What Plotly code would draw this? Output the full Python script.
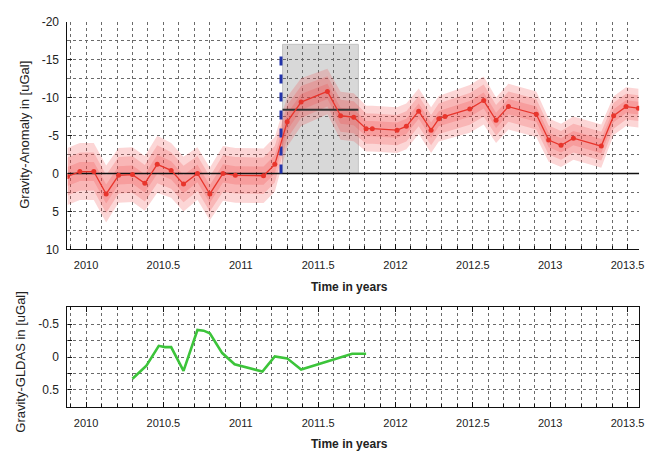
import plotly.graph_objects as go

# --- gravity anomaly time series (uGal, positive = down on the plot) ---
anom_t = [2009.88, 2009.96, 2010.05, 2010.13, 2010.21, 2010.30, 2010.38, 2010.46,
          2010.55, 2010.63, 2010.72, 2010.80, 2010.885, 2010.965, 2011.147, 2011.22,
          2011.30, 2011.39, 2011.56, 2011.645, 2011.73, 2011.81, 2011.85, 2012.01,
          2012.07, 2012.15, 2012.23, 2012.28, 2012.32, 2012.48, 2012.57, 2012.65,
          2012.73, 2012.91, 2012.99, 2013.07, 2013.15, 2013.33, 2013.41, 2013.49,
          2013.57]
anom_v = [0.4, -0.25, -0.25, 2.7, 0.25, 0.15, 1.3, -1.2,
          -0.4, 1.4, 0.0, 2.7, 0.0, 0.25, 0.3, -1.2,
          -6.8, -9.4, -10.8, -7.6, -7.4, -5.9, -5.9, -5.7,
          -6.2, -8.2, -5.7, -7.2, -7.5, -8.5, -9.6, -7.0,
          -8.8, -7.8, -4.4, -3.7, -4.65, -3.6, -7.6, -8.8,
          -8.6]
anom_sigma = [1.25, 1.25, 1.25, 1.25, 1.2, 1.2, 1.2, 1.25,
              1.2, 1.2, 1.15, 1.15, 1.2, 1.2, 1.2, 1.2,
              1.1, 1.05, 1.0, 1.05, 1.05, 1.0, 1.0, 1.0,
              1.0, 1.0, 1.0, 1.0, 1.0, 1.05, 1.05, 1.0,
              1.0, 1.0, 0.95, 0.95, 0.95, 0.95, 0.85, 0.85,
              0.85]

# event marker, averaging window and mean level
event_t = 2011.26
event_top = -16.3
window_t = [2011.27, 2011.76]
window_top = -17.0
window_mean = -8.4

# --- GLDAS hydrology correction (uGal) ---
gldas_t = [2010.30, 2010.39, 2010.47, 2010.51, 2010.55, 2010.63, 2010.72, 2010.76,
           2010.80, 2010.88, 2010.96, 2011.06, 2011.14, 2011.22, 2011.30, 2011.39,
           2011.55, 2011.63, 2011.72, 2011.81]
gldas_v = [0.33, 0.13, -0.17, -0.15, -0.15, 0.21, -0.41, -0.40,
           -0.36, -0.06, 0.11, 0.17, 0.22, -0.01, 0.02, 0.19,
           0.07, 0.01, -0.05, -0.05]

# axis ticks
x_tickvals = [2010, 2010.5, 2011, 2011.5, 2012, 2012.5, 2013, 2013.5]
x_ticktext = ["2010", "2010.5", "2011", "2011.5", "2012", "2012.5", "2013", "2013.5"]
y1_tickvals = [-20, -15, -10, -5, 0, 5, 10]
y1_ticktext = ["-20", "-15", "-10", "-5", "0", "5", "10"]
y2_tickvals = [-0.5, 0, 0.5]
y2_ticktext = ["-0.5", "0", "0.5"]

W, H = 668, 461
FONT = "Liberation Sans, Arial, sans-serif"
TXT = "#222222"
GRID = "#6a6a6a"

fig = go.Figure()

# confidence bands: 3, 2, 1 sigma
for k in (3, 2, 1):
    up = [v - k * s for v, s in zip(anom_v, anom_sigma)]
    lo = [v + k * s for v, s in zip(anom_v, anom_sigma)]
    fig.add_trace(go.Scatter(
        x=anom_t + anom_t[::-1], y=up + lo[::-1],
        fill="toself", fillcolor="rgba(240,70,70,0.22)",
        line=dict(width=0), mode="lines", hoverinfo="skip",
        xaxis="x", yaxis="y", showlegend=False))

# zero reference
fig.add_trace(go.Scatter(x=[2009.88, 2013.575], y=[0, 0], mode="lines",
                         line=dict(color="#111111", width=1.6),
                         xaxis="x", yaxis="y", showlegend=False))

# mean level in window
fig.add_trace(go.Scatter(x=window_t, y=[window_mean, window_mean], mode="lines",
                         line=dict(color="#333333", width=2),
                         xaxis="x", yaxis="y", showlegend=False))

# event marker
fig.add_trace(go.Scatter(x=[event_t, event_t], y=[0, event_top], mode="lines",
                         line=dict(color="#2233aa", width=3, dash="dash"),
                         xaxis="x", yaxis="y", showlegend=False))

# anomaly series
fig.add_trace(go.Scatter(x=anom_t, y=anom_v, mode="lines+markers",
                         line=dict(color="#e8352c", width=1.3),
                         marker=dict(color="#e8352c", size=5),
                         xaxis="x", yaxis="y", showlegend=False, cliponaxis=True))

# GLDAS series
fig.add_trace(go.Scatter(x=gldas_t, y=gldas_v, mode="lines",
                         line=dict(color="#3cc43a", width=2.6),
                         xaxis="x2", yaxis="y2", showlegend=False))

# averaging window box
fig.add_shape(type="rect", xref="x", yref="y",
              x0=window_t[0], x1=window_t[1], y0=0, y1=window_top,
              fillcolor="#d8d8d8", line=dict(color="#c4c4c4", width=1),
              layer="below")

xdom = [68 / W, 644 / W]
dom1 = [(H - 250) / H, (H - 15) / H]
dom2 = [(H - 413) / H, (H - 309) / H]

common_x = dict(
    range=[2009.88, 2013.575], tickvals=x_tickvals, ticktext=x_ticktext,
    ticks="inside", ticklen=5, tickcolor="#111111",
    showgrid=True, gridcolor=GRID, griddash="dot", gridwidth=1,
    minor=dict(dtick=0.1, tick0=2010, ticks="inside", ticklen=3,
               tickcolor="#111111", showgrid=True, gridcolor=GRID,
               griddash="dot", gridwidth=1),
    showline=True, linecolor="#111111", linewidth=1.2,
    zeroline=False, tickfont=dict(family=FONT, size=11, color=TXT),
    ticklabelstandoff=5, domain=xdom,
)

fig.update_layout(
    width=W, height=H, margin=dict(l=0, r=0, t=0, b=0),
    paper_bgcolor="white", plot_bgcolor="white",
    xaxis=dict(common_x, anchor="y", mirror=False),
    yaxis=dict(range=[10, -20], tickvals=y1_tickvals, ticktext=y1_ticktext,
               ticks="inside", ticklen=4, tickcolor="#111111",
               showgrid=True, gridcolor=GRID, griddash="dot", gridwidth=1,
               minor=dict(dtick=2.5, tick0=0, ticks="", showgrid=True,
                          gridcolor=GRID, griddash="dot", gridwidth=1),
               showline=True, linecolor="#111111", linewidth=1.2,
               zeroline=False, tickfont=dict(family=FONT, size=12, color=TXT),
               ticklabelstandoff=5, domain=dom1, anchor="x"),
    xaxis2=dict(common_x, anchor="y2", mirror="ticks"),
    yaxis2=dict(range=[0.765, -0.765], tickvals=y2_tickvals, ticktext=y2_ticktext,
                ticks="inside", ticklen=4, tickcolor="#111111",
                showgrid=True, gridcolor=GRID, griddash="dot", gridwidth=1,
                minor=dict(dtick=0.25, tick0=0, ticks="inside", ticklen=4,
                           tickcolor="#111111", showgrid=True,
                           gridcolor=GRID, griddash="dot", gridwidth=1),
                showline=True, linecolor="#111111", linewidth=1.2, mirror="ticks",
                zeroline=False, tickfont=dict(family=FONT, size=12, color=TXT),
                ticklabelstandoff=5, domain=dom2, anchor="x2"),
)

title_font = dict(family=FONT, size=12, color=TXT)
fig.add_annotation(text="<b>Time in years</b>", x=352 / W, y=(H - 289) / H,
                   xref="paper", yref="paper", showarrow=False, font=title_font,
                   xanchor="center", yanchor="middle")
fig.add_annotation(text="<b>Time in years</b>", x=352 / W, y=(H - 451) / H,
                   xref="paper", yref="paper", showarrow=False, font=title_font,
                   xanchor="center", yanchor="middle")
fig.add_annotation(text="Gravity-Anomaly in [uGal]", x=25 / W, y=(H - 132) / H,
                   xref="paper", yref="paper", showarrow=False, textangle=-90,
                   font=dict(family=FONT, size=13, color=TXT),
                   xanchor="center", yanchor="middle")
fig.add_annotation(text="Gravity-GLDAS in [uGal]", x=21 / W, y=(H - 366) / H,
                   xref="paper", yref="paper", showarrow=False, textangle=-90,
                   font=dict(family=FONT, size=13, color=TXT),
                   xanchor="center", yanchor="middle")

fig.write_html("out.html")
